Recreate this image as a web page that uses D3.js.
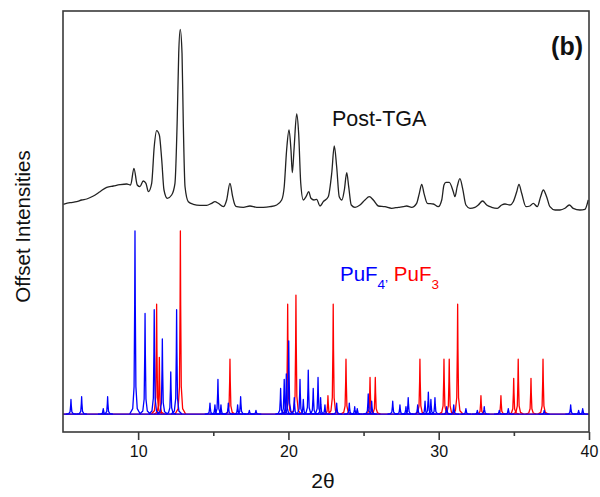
<!DOCTYPE html>
<html>
<head>
<meta charset="utf-8">
<script src="https://cdn.jsdelivr.net/npm/d3@7"></script>
<style>
  body { margin: 0; background: #fff; }
  text { font-family: Arial, "Liberation Sans", sans-serif; }
</style>
</head>
<body>
<svg id="chart" width="600" height="497"></svg>
<script>
// measured pattern after TGA (2theta, counts)
const obsTwoTheta = [5.02, 5.47, 5.91, 6.24, 6.58, 7.02, 7.46, 7.91, 8.35, 8.79, 9.24, 9.50, 9.72, 9.94, 10.12,
  10.34, 10.52, 10.68, 10.90, 11.07, 11.23, 11.41, 11.57, 11.72, 11.94, 12.23, 12.45, 12.60, 12.70, 12.80,
  12.92, 13.00, 13.12, 13.34, 13.67, 14.12, 14.56, 14.89, 15.11, 15.33, 15.67, 15.89, 16.11, 16.29, 16.44,
  16.56, 17.00, 17.44, 17.89, 18.33, 18.77, 19.22, 19.55, 19.72, 19.88, 20.04, 20.17, 20.26, 20.37, 20.55,
  20.68, 20.82, 20.99, 21.17, 21.35, 21.50, 21.70, 21.88, 22.10, 22.32, 22.65, 22.88, 23.05, 23.21, 23.38,
  23.56, 23.72, 23.88, 24.01, 24.18, 24.43, 24.76, 25.09, 25.38, 25.65, 25.98, 26.42, 26.87, 27.31, 27.64,
  27.87, 28.20, 28.53, 28.71, 28.87, 29.02, 29.24, 29.64, 29.97, 30.20, 30.35, 30.48, 30.70, 30.97, 31.08,
  31.23, 31.41, 31.59, 31.81, 32.08, 32.41, 32.63, 32.92, 33.19, 33.52, 33.90, 34.19, 34.41, 34.74, 34.96,
  35.19, 35.34, 35.52, 35.81, 36.07, 36.29, 36.56, 36.78, 36.96, 37.18, 37.40, 37.74, 38.07, 38.40, 38.69,
  38.95, 39.40, 39.73, 39.95];
const obsCounts = [77, 93, 103, 120, 130, 160, 203, 247, 260, 273, 280, 270, 437, 270, 253,
  310, 287, 203, 287, 653, 813, 770, 520, 220, 137, 170, 287, 920, 1587, 1827,
  1587, 920, 253, 103, 77, 67, 67, 87, 103, 87, 53, 120, 287, 153, 70,
  53, 47, 60, 47, 47, 53, 70, 120, 253, 620, 820, 620, 393, 620, 980,
  787, 287, 120, 153, 203, 137, 120, 127, 60, 103, 153, 387, 660, 453, 153,
  120, 220, 393, 253, 70, 47, 70, 120, 153, 120, 60, 53, 37, 47, 53,
  60, 47, 87, 187, 277, 187, 87, 80, 53, 120, 270, 297, 297, 203, 153,
  253, 333, 237, 70, 37, 47, 70, 110, 70, 47, 37, 70, 80, 70, 103,
  203, 277, 187, 53, 60, 87, 53, 153, 220, 153, 53, 20, 20, 37, 70,
  37, 20, 27, 120];

// reference patterns: peak positions (2theta) and relative intensities (%)
const puf4Pos = [5.53, 6.24, 7.68, 7.97, 9.79, 10.46, 11.07, 11.61, 12.17, 12.56, 14.78, 15.11, 15.31, 15.51,
  16.00, 16.62, 16.82, 17.40, 17.84, 19.48, 19.72, 19.86, 20.02, 20.39, 20.77, 20.99, 21.32, 21.65, 21.97,
  22.14, 22.43, 23.21, 24.05, 24.41, 24.58, 25.31, 25.54, 26.94, 27.42, 27.82, 27.97, 28.60, 29.09, 29.31,
  29.48, 29.75, 30.53, 31.00, 31.81, 32.57, 33.03, 34.03, 34.63, 37.02, 38.78, 39.31, 39.58];
const puf4Int = [8, 9.5, 3, 9.5, 100, 55, 57, 41, 23, 57, 6, 5, 19, 5,
  6, 5, 9.5, 2, 2, 14, 19, 22, 40, 9, 19, 8, 24, 14, 20,
  9, 5, 6, 6, 4, 3, 11, 7, 7, 5, 4, 9, 5, 7, 12,
  8, 9, 4, 5, 3, 2, 4, 2, 3, 2, 5, 2, 3];
const puf3Pos = [11.23, 11.41, 12.81, 16.11, 19.95, 20.50, 22.63, 22.98, 23.83, 25.43, 25.78, 28.75, 30.35,
  30.70, 31.26, 32.81, 34.14, 34.99, 35.29, 36.14, 36.94];
const puf3Int = [60, 31, 100, 30, 60, 65, 10, 60, 30, 20, 20, 30, 30,
  30, 60, 10, 10, 19.5, 30, 19.5, 30];

const xTicks = [10, 20, 30, 40];
const xMinorTicks = [15, 25, 35];

// peak glyph shape (offset in degrees, fraction of height)
const peakDx = [-0.35, -0.15, -0.06, -0.02, 0, 0.02, 0.06, 0.15, 0.35];
const peakFrac = [0, 0.03, 0.15, 0.6, 1, 0.6, 0.15, 0.03, 0];

const width = 600, height = 497;
const margin = { top: 11, right: 11, bottom: 65, left: 63 };
const innerW = width - margin.left - margin.right;
const innerH = height - margin.top - margin.bottom;

const svg = d3.select("#chart");
const g = svg.append("g").attr("transform", `translate(${margin.left},${margin.top})`);

const x = d3.scaleLinear().domain([5, 40]).range([0, innerW]);
const yObs = d3.scaleLinear().domain([-2200, 2010]).range([innerH, 0]);
const yRef = d3.scaleLinear().domain([-9.8, 220.2]).range([innerH, 0]);

g.append("clipPath").attr("id", "clip")
  .append("rect").attr("width", innerW).attr("height", innerH);

const plot = g.append("g").attr("clip-path", "url(#clip)");

const refLine = d3.line().x((d) => x(d[0])).y((d) => yRef(d[1]));

const drawPattern = (cls, pos, ints, color) => {
  const peaks = pos.map((p, i) => peakDx.map((dx, k) => [p + dx, ints[i] * peakFrac[k]]));
  const grp = plot.append("g").attr("class", cls);
  grp.append("path")
    .attr("d", refLine([[5, 0], [40, 0]]))
    .attr("fill", "none")
    .attr("stroke", color)
    .attr("stroke-width", 1.3);
  grp.selectAll("path.peak")
    .data(peaks)
    .join("path")
    .attr("class", "peak")
    .attr("d", (d) => refLine(d))
    .attr("fill", "none")
    .attr("stroke", color)
    .attr("stroke-width", 1.3)
    .attr("stroke-linejoin", "round");
};

drawPattern("puf3", puf3Pos, puf3Int, "#ff0000");
drawPattern("puf4", puf4Pos, puf4Int, "#0000ff");

const obsLine = d3.line()
  .x((d) => x(d[0]))
  .y((d) => yObs(d[1]))
  .curve(d3.curveMonotoneX);

plot.append("path")
  .datum(obsTwoTheta.map((t, i) => [t, obsCounts[i]]))
  .attr("d", obsLine)
  .attr("fill", "none")
  .attr("stroke", "#222")
  .attr("stroke-width", 1.3);

// frame
g.append("rect")
  .attr("width", innerW)
  .attr("height", innerH)
  .attr("fill", "none")
  .attr("stroke", "#3a3a3a")
  .attr("stroke-width", 1.6);

// x axis
const xAxis = g.append("g")
  .attr("transform", `translate(0,${innerH})`)
  .call(d3.axisBottom(x).tickValues(xTicks).tickSize(8).tickPadding(6).tickFormat(d3.format("d")));
xAxis.select(".domain").remove();
xAxis.selectAll("line").attr("stroke", "#3a3a3a").attr("stroke-width", 1.6);
xAxis.selectAll("text").attr("font-size", 16).attr("fill", "#111")
  .style("font-family", "Arial, 'Liberation Sans', sans-serif");

const xMinor = g.append("g")
  .attr("transform", `translate(0,${innerH})`)
  .call(d3.axisBottom(x).tickValues(xMinorTicks).tickSize(4).tickFormat(""));
xMinor.select(".domain").remove();
xMinor.selectAll("line").attr("stroke", "#3a3a3a").attr("stroke-width", 1.6);

// labels
svg.append("text")
  .attr("x", margin.left + x(22.3))
  .attr("y", 488)
  .attr("text-anchor", "middle")
  .attr("font-size", 21)
  .attr("fill", "#111")
  .text("2θ");

svg.append("text")
  .attr("transform", `translate(30,${margin.top + innerH / 2 + 5}) rotate(-90)`)
  .attr("text-anchor", "middle")
  .attr("font-size", 20.5)
  .attr("fill", "#111")
  .text("Offset Intensities");

g.append("text")
  .attr("x", innerW - 6)
  .attr("y", 44)
  .attr("text-anchor", "end")
  .attr("font-size", 25)
  .attr("font-weight", "bold")
  .attr("fill", "#111")
  .text("(b)");

g.append("text")
  .attr("x", 332 - margin.left)
  .attr("y", 126 - margin.top)
  .attr("font-size", 21.5)
  .attr("fill", "#111")
  .text("Post-TGA");

const legend = g.append("text")
  .attr("x", 340 - margin.left)
  .attr("y", 281 - margin.top)
  .attr("font-size", 20.5);
legend.append("tspan").attr("fill", "#0000ff").text("PuF");
legend.append("tspan").attr("fill", "#0000ff").attr("font-size", 13.5).attr("dy", 8).text("4’");
legend.append("tspan").attr("fill", "#ff0000").attr("dy", -8).text(" PuF");
legend.append("tspan").attr("fill", "#ff0000").attr("font-size", 13.5).attr("dy", 8).text("3");
</script>
</body>
</html>
